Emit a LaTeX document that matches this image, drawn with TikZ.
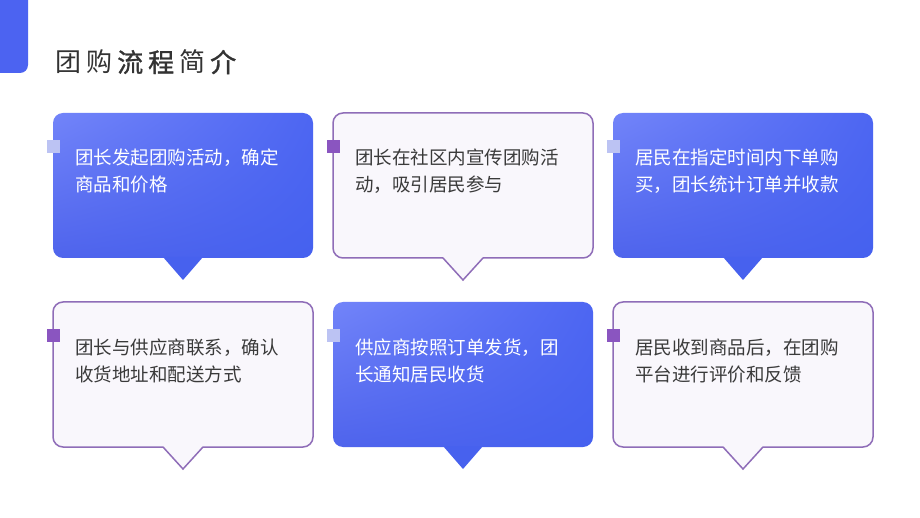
\documentclass[tikz,border=0pt]{standalone}
\usepackage{fontspec}
\usetikzlibrary{shadings}
\setmainfont{Noto Sans CJK SC}
\newfontfamily\semibold{Noto Sans CJK SC}[FakeBold=1.2]
\definecolor{accent}{HTML}{4C63F1}
\definecolor{bxA}{HTML}{7284F9}
\definecolor{bxB}{HTML}{4D66F2}
\definecolor{bxC}{HTML}{4F64EC}
\definecolor{bxD}{HTML}{4561EF}
\definecolor{tipblue}{HTML}{4761EE}
\definecolor{cardbg}{HTML}{F9F7FC}
\definecolor{cardline}{HTML}{8F6DB8}
\definecolor{markpurple}{HTML}{8A55C0}
\definecolor{marklight}{HTML}{BCC3F3}
\definecolor{titlegray}{HTML}{333333}
\definecolor{bodygray}{HTML}{3A3A3A}
\tikzset{
  bluefill/.style={upper left=bxA, upper right=bxB, lower left=bxC, lower right=bxD, rounded corners=10pt},
  whitefill/.style={fill=cardbg, draw=cardline, line width=1.5pt, rounded corners=10pt},
  tipline/.style={draw=cardline, line width=1.5pt, line join=miter},
  cardtext/.style={inner sep=0pt, anchor=base west},
}
\newcommand\cardtxt[1]{\parbox[t]{240pt}{\raggedright\fontsize{18.5}{27}\selectfont #1}}
\newcommand\bluecard[4]{%
  \shade[bluefill] (#2,#3) rectangle ++(260,145);
  \fill[tipblue] ({#2+110},{#3+144}) -- ({#2+150},{#3+144}) -- ({#2+130},{#3+167}) -- cycle;
  \fill[marklight] ({#2-6.5},{#3+27}) rectangle ++(13,13);
  \node[cardtext, text=white] (#1) at ({#2+22},{#3+52}) {\cardtxt{#4}};
}
\newcommand\whitecard[4]{%
  \path[whitefill] (#2,#3) rectangle ++(260,145);
  \fill[cardbg] ({#2+110},{#3+144}) -- ({#2+150},{#3+144}) -- ({#2+130},{#3+167}) -- cycle;
  \draw[tipline] ({#2+110},{#3+145}) -- ({#2+130},{#3+167}) -- ({#2+150},{#3+145});
  \fill[markpurple] ({#2-6.5},{#3+27}) rectangle ++(13,13);
  \node[cardtext, text=bodygray] (#1) at ({#2+22},{#3+52}) {\cardtxt{#4}};
}
\begin{document}
\begin{tikzpicture}[x=1pt,y=-1pt]
\useasboundingbox (0,0) rectangle (920,518);
\fill[white] (0,0) rectangle (920,518);
% corner accent
\fill[accent, rounded corners=8pt] (-20,-20) rectangle (28,73);
% title
\node[inner sep=0pt, anchor=base west, text=titlegray, font=\fontsize{26}{30}\selectfont] (title) at (55,72)
  {团\hspace{5pt}购\hspace{5pt}{\semibold 流\hspace{5pt}程}\hspace{5pt}简\hspace{5pt}{\semibold 介}};
% row 1
\bluecard{c1}{53}{113}{团长发起团购活动，确定\\商品和价格}
\whitecard{c2}{333}{113}{团长在社区内宣传团购活\\动，吸引居民参与}
\bluecard{c3}{613}{113}{居民在指定时间内下单购\\买，团长统计订单并收款}
% row 2
\whitecard{c4}{53}{302}{团长与供应商联系，确认\\收货地址和配送方式}
\bluecard{c5}{333}{302}{供应商按照订单发货，团\\长通知居民收货}
\whitecard{c6}{613}{302}{居民收到商品后，在团购\\平台进行评价和反馈}
\end{tikzpicture}
\end{document}
